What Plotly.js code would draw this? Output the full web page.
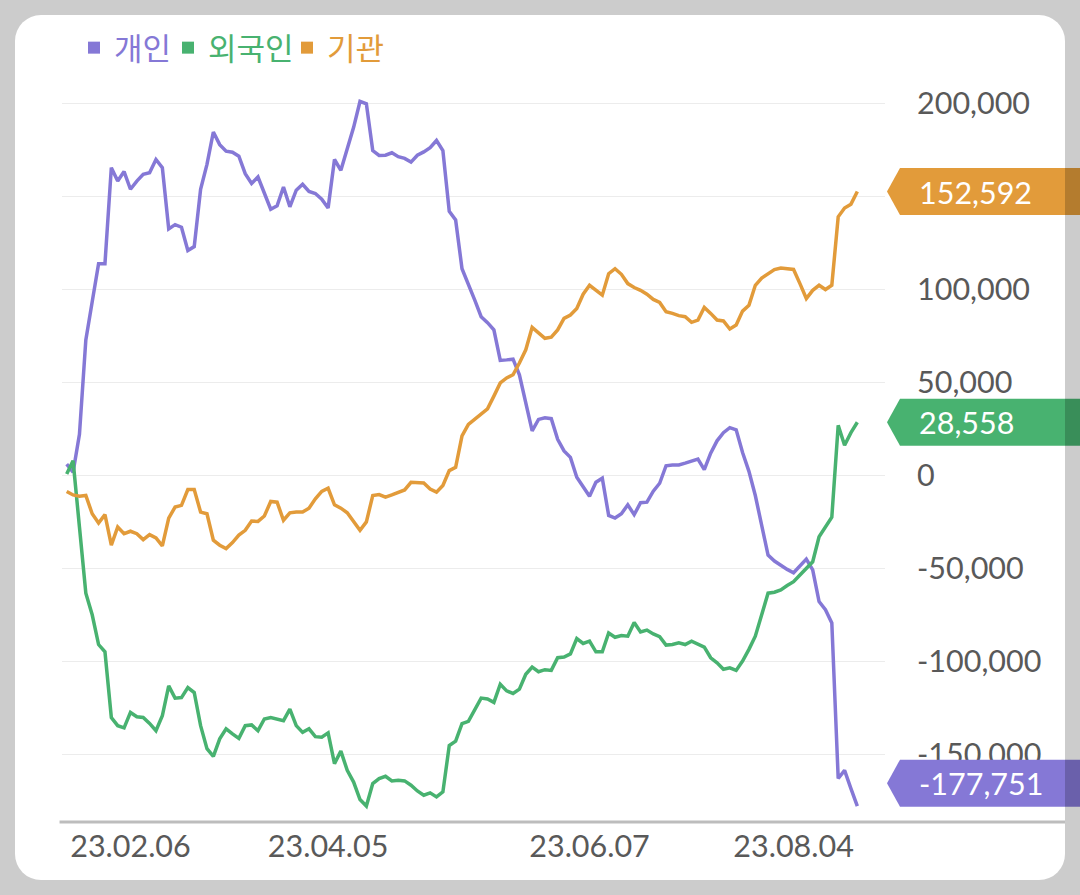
<!DOCTYPE html>
<html>
<head>
<meta charset="utf-8">
<script src="https://cdn.plot.ly/plotly-3.0.1.min.js"></script>
<style>
  html, body { margin: 0; padding: 0; background: #ffffff; }
  #wrap { position: relative; width: 1080px; height: 895px; overflow: hidden; }
  #chart { position: absolute; left: 0; top: 0; width: 1080px; height: 895px; }
  #card { position: absolute; left: 15px; top: 15px; width: 1050px; height: 865px;
          border-radius: 26px; box-shadow: 0 0 0 1500px rgba(0,0,0,0.2);
          pointer-events: none; z-index: 10; }
</style>
</head>
<body>
<div id="wrap"><div id="chart"></div><div id="card"></div></div>
<script>
// ---- data (net buying, cumulative) ----
const seriesNames = ['개인', '외국인', '기관'];
const seriesColors = ['#8578D6', '#48B270', '#E29B3A'];

const persons = [6100, 1700, 22100, 72800, 93300, 113800, 113800, 165400, 158200, 163300,
  153800, 158200, 161800, 162700, 169800, 165400, 132500, 134800, 133400, 120900,
  123000, 153800, 167200, 184600, 177800, 174300, 173700, 171600, 162200, 156900,
  160400, 151100, 143100, 144900, 155000, 144400, 153300, 156500, 152600, 151500,
  148500, 143700, 169800, 164000, 176100, 187100, 201000, 199700, 174600, 172000,
  172100, 173400, 171300, 170400, 168400, 172100, 173900, 176100, 180000, 174600,
  141900, 137300, 111100, 103100, 94200, 85300, 82100, 78200, 61800, 62100,
  62500, 54100, 39900, 23900, 30100, 31000, 30500, 19400, 13200, 9700,
  -1000, -6400, -11200, -3700, -1500, -21500, -22900, -20600, -15800, -21100,
  -14700, -14400, -8500, -4200, 5200, 5600, 5600, 6600, 7900, 8800,
  3100, 12000, 18600, 23000, 25700, 24500, 12300, 2200, -10800, -26800,
  -42800, -46000, -48500, -50500, -52300, -48500, -45000, -50800, -67800, -72200,
  -79300, -162900, -158500, -168300, -177751];

const foreigners = [700, 7900, -27700, -63300, -74900, -90900, -94800, -130100, -134500, -135700,
  -127400, -129700, -130100, -133300, -137200, -129200, -113100, -119700, -119400, -114000,
  -116700, -134500, -146900, -151000, -141600, -136200, -138900, -141300, -134500, -134100,
  -137200, -130900, -130100, -130900, -131800, -125600, -134500, -138100, -136200, -140400,
  -140700, -138400, -154900, -148200, -158500, -164800, -174200, -177700, -165600, -162900,
  -161700, -164200, -163900, -164200, -166500, -169600, -171900, -170600, -172800, -170100,
  -145200, -142800, -133400, -132200, -125600, -119700, -120200, -122000, -112200, -115800,
  -117200, -114900, -106900, -103000, -105500, -104400, -104800, -98000, -97600, -95900,
  -87700, -90300, -89100, -94800, -94800, -84700, -87000, -86100, -86400, -79000,
  -84100, -83100, -85200, -86700, -91200, -90900, -90000, -90900, -89100, -90900,
  -92300, -98000, -100700, -104200, -103400, -104800, -99800, -93500, -86400, -74900,
  -63300, -62800, -61500, -59200, -57100, -53500, -49600, -46400, -33000, -27700,
  -22400, 26900, 16200, 23000, 28558];

const institutions = [-8600, -10500, -11200, -10800, -20600, -25600, -21100, -37500, -27700, -31300,
  -30000, -31300, -34500, -31800, -33600, -37900, -22900, -17000, -16100, -7600,
  -7600, -19700, -20600, -34800, -37500, -39300, -36100, -32100, -29500, -24500,
  -24700, -21800, -14000, -14400, -24100, -20100, -19700, -19700, -17600, -12600,
  -8600, -6900, -15800, -17600, -20100, -25000, -29500, -25000, -10800, -10300,
  -11700, -10500, -9000, -7800, -3700, -4100, -4100, -7300, -9000, -5400,
  2600, 4300, 21200, 27400, 30100, 33200, 35800, 42600, 49700, 52400,
  54100, 60400, 67500, 79600, 76400, 73700, 74300, 78200, 84400, 86200,
  89700, 97400, 102200, 99500, 96900, 108400, 111100, 108100, 103100, 101000,
  99500, 97400, 94600, 93000, 88000, 87100, 85900, 85300, 82300, 83500,
  90300, 87100, 83500, 83000, 78700, 80800, 88300, 91500, 102200, 106100,
  108100, 110600, 111500, 111100, 110700, 103100, 95100, 99500, 102200, 99900,
  102200, 139000, 143700, 145800, 152592];

const xTickIndex = [10, 41, 82, 114];
const xTickLabels = ['23.02.06', '23.04.05', '23.06.07', '23.08.04'];
const yTickValues = [-150000, -100000, -50000, 0, 50000, 100000, 150000, 200000];
// the 150,000 label sits hidden under the 기관 end-value tag in the reference
const yTickLabels = ['-150,000', '-100,000', '-50,000', '0', '50,000', '100,000', '', '200,000'];

// ---- build ----
const allSeries = [persons, foreigners, institutions];
const dayIndex = persons.map((_, i) => i);
const FONT = 'Lato, "Noto Sans CJK KR", sans-serif';
const KFONT = '"Noto Sans CJK KR", Lato, sans-serif';

const traces = [];
allSeries.forEach((s, k) => {
  traces.push({
    x: dayIndex, y: s, type: 'scatter', mode: 'lines',
    line: { color: seriesColors[k], width: 3.5 },
    showlegend: false, hoverinfo: 'skip'
  });
});
const legendIds = ['legend', 'legend2', 'legend3'];
seriesNames.forEach((nm, k) => {
  traces.push({
    x: [null], y: [null], type: 'scatter', mode: 'markers', name: nm,
    marker: { symbol: 'square', size: 12, color: seriesColors[k] },
    legend: legendIds[k], showlegend: true
  });
});

const legendX = [74, 168, 287];
const legendCommon = (k) => ({
  xref: 'container', yref: 'container', x: legendX[k] / 1080, y: 1 - 48 / 895,
  xanchor: 'left', yanchor: 'middle', orientation: 'h', bgcolor: 'rgba(0,0,0,0)',
  borderwidth: 0, itemwidth: 30,
  font: { family: KFONT, size: 31, color: seriesColors[k] }
});

// end-value labels
const lastVals = allSeries.map(s => s[s.length - 1]);
const labelShift = [23, 0, 0];
const shapes = [{
  type: 'line', xref: 'paper', yref: 'paper', x0: -0.003, x1: (1065 - 62) / 823, y0: 0, y1: 0,
  line: { color: '#bdbdbd', width: 3 }, layer: 'below'
}];
const annotations = [];
[2, 1, 0].forEach(k => {
  const s = labelShift[k];
  shapes.push({
    type: 'path', xref: 'paper', yref: 'y', xsizemode: 'pixel', ysizemode: 'pixel',
    xanchor: 1, yanchor: lastVals[k],
    path: `M 2,${s} L 15,${s + 23.5} L 200,${s + 23.5} L 200,${s - 23.5} L 15,${s - 23.5} Z`,
    fillcolor: seriesColors[k], line: { width: 0 }, layer: 'above'
  });
  annotations.push({
    xref: 'paper', yref: 'y', x: 1, y: lastVals[k], xanchor: 'left', yanchor: 'middle',
    xshift: 32, yshift: s, showarrow: false,
    text: lastVals[k].toLocaleString('en-US'),
    font: { family: FONT, size: 30.5, color: '#ffffff' }
  });
});

const layout = {
  width: 1080, height: 895,
  margin: { l: 62, r: 195, t: 70, b: 73 },
  paper_bgcolor: 'rgba(0,0,0,0)', plot_bgcolor: 'rgba(0,0,0,0)',
  font: { family: FONT, color: '#595959', size: 30.5 },
  legend: legendCommon(0), legend2: legendCommon(1), legend3: legendCommon(2),
  xaxis: {
    range: [-0.737, 128.34], tickvals: xTickIndex, ticktext: xTickLabels,
    showgrid: false, zeroline: false, showline: false, ticks: '',
    tickfont: { family: FONT, size: 30.5, color: '#595959' }, ticklabelstandoff: 3, fixedrange: true
  },
  yaxis: {
    side: 'right', range: [-186280, 215220], tickvals: yTickValues, ticktext: yTickLabels,
    showgrid: true, gridcolor: '#ececec', gridwidth: 1, zeroline: false, showline: false, ticks: '',
    tickfont: { family: FONT, size: 30.5, color: '#595959' }, ticklabelstandoff: 31, fixedrange: true
  },
  shapes: shapes, annotations: annotations, hovermode: false
};

Plotly.newPlot('chart', traces, layout, { displayModeBar: false, staticPlot: true });
</script>
</body>
</html>
